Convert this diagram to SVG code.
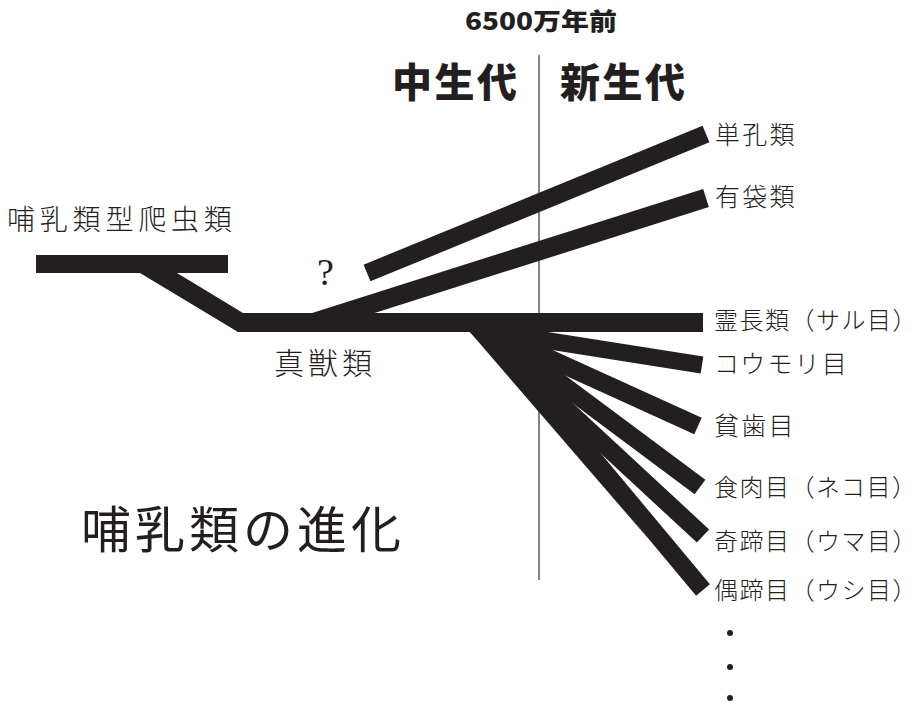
<svg xmlns="http://www.w3.org/2000/svg" width="917" height="704" viewBox="0 0 917 704">
<style>
.lbl{font-family:"Noto Sans CJK JP","Noto Sans CJK SC",sans-serif;font-weight:300;font-size:25px;letter-spacing:2.2px;fill:#231f20}
.lblp{font-family:"Noto Sans CJK JP","Noto Sans CJK SC",sans-serif;font-weight:300;font-size:24px;letter-spacing:1.5px;fill:#231f20}
.era{font-family:"Noto Sans CJK JP","Noto Sans CJK SC",sans-serif;font-weight:900;font-size:40px;letter-spacing:2.5px;fill:#231f20}
.br{stroke:#231f20;stroke-linecap:butt;fill:none}
.dot{fill:#231f20}
</style>
<rect width="917" height="704" fill="#ffffff"/>
<g id="title">
<text x="81" y="548" font-family="'Noto Sans CJK JP','Noto Sans CJK SC',sans-serif" font-size="50" letter-spacing="4" fill="#231f20">哺乳類の進化</text>
</g>
<g id="time-line">
<line x1="539" y1="55" x2="539" y2="580" stroke="#858585" stroke-width="2"/>
<text x="465" y="30" textLength="152" lengthAdjust="spacingAndGlyphs" font-family="'Noto Sans CJK JP','Noto Sans CJK SC',sans-serif" font-weight="900" font-size="24" fill="#231f20">6500万年前</text>
<text class="era" x="392" y="97">中生代</text>
<text class="era" x="560" y="97">新生代</text>
</g>
<g id="connectors">
<polygon fill="#231f20" points="36,255 228,255 228,273 177,273 243,313 703,313 703,332 238,332 140,273 36,273"/>
<polygon fill="#231f20" points="469,331 480,331 650,540.7"/>
<line class="br" x1="315" y1="322" x2="706" y2="198" stroke-width="19"/>
<line class="br" x1="367" y1="273" x2="706" y2="134" stroke-width="18"/>
<line class="br" x1="480" y1="330" x2="702" y2="365" stroke-width="17"/>
<line class="br" x1="480" y1="327" x2="698" y2="426" stroke-width="18"/>
<line class="br" x1="480" y1="323" x2="700" y2="487" stroke-width="18"/>
<line class="br" x1="470" y1="320" x2="703" y2="536" stroke-width="18"/>
<line class="br" x1="479.5" y1="322" x2="703" y2="590" stroke-width="18"/>
</g>
<g id="node-reptile"><text x="7" y="230" font-family="'Noto Sans CJK JP','Noto Sans CJK SC',sans-serif" font-weight="300" font-size="28" letter-spacing="4.8" fill="#231f20">哺乳類型爬虫類</text></g>
<g id="node-eutheria"><text x="274" y="374" font-family="'Noto Sans CJK JP','Noto Sans CJK SC',sans-serif" font-weight="300" font-size="30" letter-spacing="4" fill="#231f20">真獣類</text></g>
<g id="node-unknown"><text x="317" y="285" font-family="'Liberation Serif',serif" font-size="38" fill="#231f20">?</text></g>
<g id="node-monotremata"><text class="lbl" x="715" y="144">単孔類</text></g>
<g id="node-marsupialia"><text class="lbl" x="715" y="206">有袋類</text></g>
<g id="node-primates"><text class="lblp" x="714" y="329">霊長類（サル目）</text></g>
<g id="node-chiroptera"><text class="lbl" x="714" y="373">コウモリ目</text></g>
<g id="node-xenarthra"><text class="lbl" x="714" y="435">貧歯目</text></g>
<g id="node-carnivora"><text class="lblp" x="714" y="496">食肉目（ネコ目）</text></g>
<g id="node-perissodactyla"><text class="lblp" x="714" y="550">奇蹄目（ウマ目）</text></g>
<g id="node-artiodactyla"><text class="lblp" x="714" y="599">偶蹄目（ウシ目）</text></g>
<g id="more">
<circle class="dot" cx="730" cy="633" r="3"/>
<circle class="dot" cx="730" cy="667" r="3"/>
<circle class="dot" cx="730" cy="698" r="3"/>
</g>
</svg>
